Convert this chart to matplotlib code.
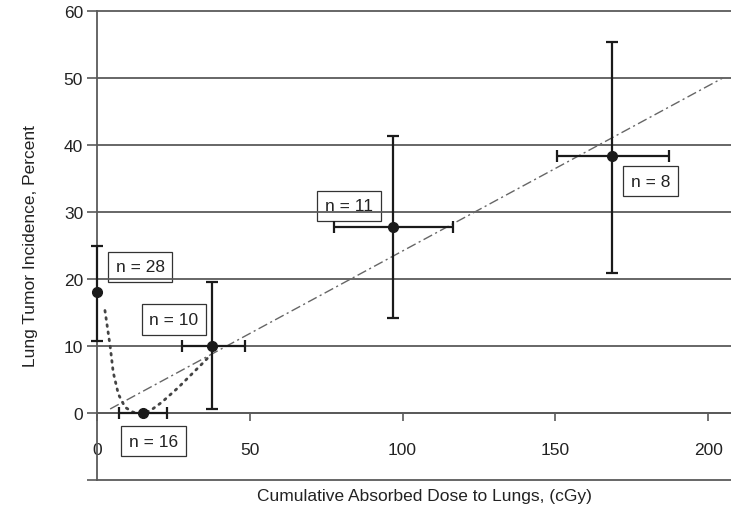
import matplotlib.pyplot as plt
import numpy as np

plt.rcParams['font.family'] = ['Liberation Sans', 'DejaVu Sans']

# Dose groups: mean dose, tumor incidence and their ranges
dose = [0, 15, 37.8, 97, 168.7]
incidence = [18, 0, 10, 27.8, 38.4]
inc_low = [10.8, np.nan, 0.6, 14.2, 20.9]
inc_high = [25.0, np.nan, 19.5, 41.3, 55.3]
dose_low = [np.nan, 7.2, 27.7, 77.7, 150.5]
dose_high = [np.nan, 22.8, 48.4, 116.6, 187.2]
group_n = ["n = 28", "n = 16", "n = 10", "n = 11", "n = 8"]

# Linear fit through the groups
fit_x = [4.3, 204.8]
fit_y = [0.6, 50.0]

# Smoothed curve through the low-dose groups
curve_x = [2.6, 4.3, 5.3, 7.0, 9.2, 11.9, 14.1, 17.3, 21.2, 26.6, 32.1, 35.4, 36.4]
curve_y = [15.3, 10.0, 6.1, 2.8, 0.85, 0.1, 0.0, 0.3, 1.6, 3.8, 6.3, 7.8, 8.3]

xticks = [0, 50, 100, 150, 200]
yticks = [-10, 0, 10, 20, 30, 40, 50, 60]

fig = plt.figure(figsize=(7.31, 5.10), dpi=100)
ax = fig.add_axes([97 / 731, 29 / 510, 634 / 731, 469 / 510])
ax.set_xlim(0, 207.5)
ax.set_ylim(-10, 60)

grid_c = '#5a5a5a'
for yv in yticks:
    ax.axhline(yv, color=grid_c, lw=1.3, zorder=2, clip_on=False)

ax.spines['top'].set_visible(False)
ax.spines['right'].set_visible(False)
ax.spines['left'].set_color(grid_c)
ax.spines['left'].set_linewidth(1.3)
ax.spines['bottom'].set_position(('data', 0))
ax.spines['bottom'].set_color(grid_c)
ax.spines['bottom'].set_linewidth(1.3)

ax.set_yticks(yticks)
ax.set_yticklabels(['' if v < 0 else str(v) for v in yticks])
ax.set_xticks(xticks)
ax.tick_params(axis='y', direction='out', length=7, width=1.2, color=grid_c,
               pad=3, labelsize=12.5, labelcolor='#222222')
ax.tick_params(axis='x', direction='out', length=6, width=1.2, color=grid_c,
               pad=15, labelsize=12.5, labelcolor='#222222')

ax.plot(fit_x, fit_y, color='#666666', lw=1.0, ls=(0, (7, 2.5, 1.5, 2.5)), zorder=3)
ax.plot(curve_x, curve_y, color='#444444', lw=2.0, ls=(0, (0.6, 2.0)),
        dash_capstyle='round', zorder=3)

bar_c = '#1a1a1a'
for i in range(len(dose)):
    x, y = dose[i], incidence[i]
    yerr = None
    xerr = None
    if not np.isnan(inc_low[i]):
        yerr = [[y - inc_low[i]], [inc_high[i] - y]]
    if not np.isnan(dose_low[i]):
        xerr = [[x - dose_low[i]], [dose_high[i] - x]]
    ax.errorbar([x], [y], xerr=xerr, yerr=yerr, fmt='o', color=bar_c,
                ms=7, elinewidth=1.6, capsize=4, capthick=1.6,
                zorder=4, clip_on=False)

# group size boxes
label_pos = [(14.1, 21.8), (18.5, -4.2), (25.2, 14.0), (82.5, 30.9), (181.1, 34.6)]
for txt, (lx, ly) in zip(group_n, label_pos):
    ax.text(lx, ly, txt, ha='center', va='center', fontsize=12.5, color='#222222',
            zorder=1,
            bbox=dict(boxstyle='square,pad=0.45', fc='white', ec='#333333', lw=0.9))

fig.text(424 / 731, 1 - 497 / 510, 'Cumulative Absorbed Dose to Lungs, (cGy)',
         ha='center', va='center', fontsize=12.5, color='#222222')
fig.text(31 / 731, 1 - 246 / 510, 'Lung Tumor Incidence, Percent',
         ha='center', va='center', rotation=90, fontsize=12.5, color='#222222')

fig.savefig('out.png', dpi=100)
